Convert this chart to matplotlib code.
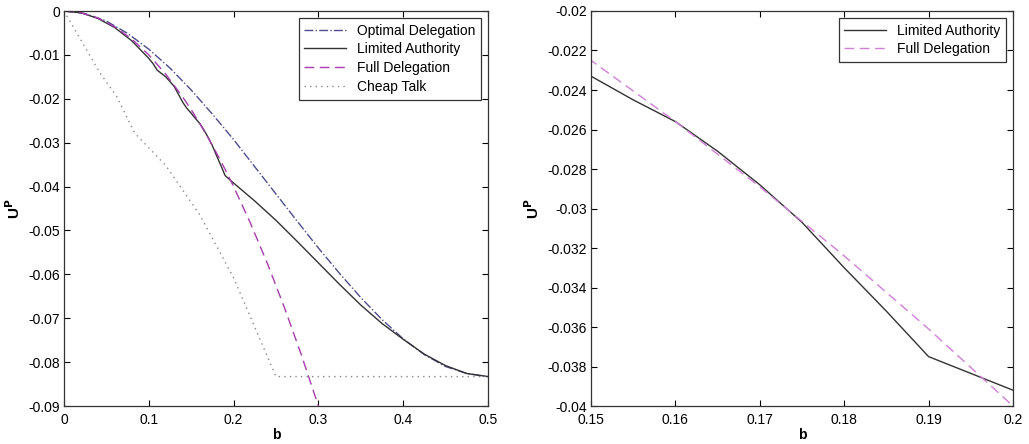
import matplotlib.pyplot as plt
from matplotlib.ticker import FuncFormatter

plt.rcParams['font.family'] = ['Liberation Sans', 'DejaVu Sans']
plt.rcParams['font.size'] = 10

# Valores
b_opt = [0, 0.025, 0.05, 0.075, 0.1, 0.125, 0.15, 0.175, 0.2, 0.225, 0.25,
         0.275, 0.3, 0.325, 0.35, 0.375, 0.4, 0.425, 0.45, 0.475, 0.5]
u_opt = [0, -0.0006, -0.0023, -0.0051, -0.0087, -0.0130, -0.0180, -0.0235, -0.0293,
         -0.0355, -0.0417, -0.0479, -0.0540, -0.0598, -0.0653, -0.0703, -0.0747,
         -0.0783, -0.0810, -0.0826, -0.0833]

b_lim = [0, 0.02, 0.04, 0.06, 0.08, 0.1, 0.105, 0.11, 0.12, 0.13, 0.14, 0.145,
         0.15, 0.155, 0.16, 0.165, 0.17, 0.175, 0.18, 0.185, 0.19, 0.195, 0.2,
         0.225, 0.25, 0.275, 0.3, 0.325, 0.35, 0.375, 0.4, 0.425, 0.45, 0.475, 0.5]
u_lim = [0, -0.0004, -0.0017, -0.0038, -0.0068, -0.0108, -0.0120, -0.0135, -0.0150,
         -0.0172, -0.0208, -0.0222, -0.0233, -0.0245, -0.0256, -0.0271, -0.0288,
         -0.0307, -0.0330, -0.0352, -0.0375, -0.03835, -0.0392, -0.0433, -0.0477,
         -0.0525, -0.0574, -0.0623, -0.0670, -0.0712, -0.0748, -0.0782, -0.0808,
         -0.0826, -0.0833]

b_full = [0, 0.02, 0.04, 0.06, 0.08, 0.1, 0.12, 0.14, 0.15, 0.16, 0.17, 0.18,
          0.19, 0.2, 0.22, 0.24, 0.26, 0.28, 0.3]
u_full = [0, -0.0004, -0.0016, -0.0036, -0.0064, -0.0100, -0.0144, -0.0196, -0.0225,
          -0.0256, -0.0289, -0.0324, -0.0361, -0.0400, -0.0484, -0.0576, -0.0676,
          -0.0784, -0.0900]

b_ct = [0, 0.025, 0.0417, 0.0625, 0.0833, 0.12, 0.16, 0.2, 0.25, 0.5]
u_ct = [0, -0.0083, -0.0139, -0.0196, -0.0278, -0.0352, -0.0464, -0.0608, -0.0833, -0.0833]

fmt = FuncFormatter(lambda v, p: ('%g' % round(v, 4)))

fig = plt.figure(figsize=(10.29, 4.44), dpi=100)

# Panel izquierdo
ax1 = fig.add_axes([64 / 1029, 38 / 444, 424 / 1029, 395 / 444])
ax1.plot(b_opt, u_opt, linestyle='-.', color='#4d4d8f', lw=1.0, label='Optimal Delegation')
ax1.plot(b_lim, u_lim, linestyle='-', color='#333333', lw=1.0, label='Limited Authority')
ax1.plot(b_full, u_full, linestyle=(0, (7, 4)), color='#a83cb0', lw=1.0, label='Full Delegation')
ax1.plot(b_ct, u_ct, linestyle=(0, (1, 3)), color='#888888', lw=1.0, label='Cheap Talk')
ax1.set_xlim(0, 0.5)
ax1.set_ylim(-0.09, 0)
ax1.set_xticks([0, 0.1, 0.2, 0.3, 0.4, 0.5])
ax1.set_yticks([-0.09, -0.08, -0.07, -0.06, -0.05, -0.04, -0.03, -0.02, -0.01, 0])
ax1.set_xlabel('b', fontweight='bold', labelpad=1)
ax1.set_ylabel('U$^\\mathbf{P}$', fontweight='bold', fontsize=11, labelpad=4)
leg1 = ax1.legend(loc='upper right', fancybox=False, edgecolor='#333333', framealpha=1,
                  handlelength=3.0, borderaxespad=0.5, labelspacing=0.35)
leg1.get_frame().set_linewidth(0.9)

# Panel derecho (zoom)
ax2 = fig.add_axes([591 / 1029, 38 / 444, 422 / 1029, 395 / 444])
ax2.plot(b_lim, u_lim, linestyle='-', color='#333333', lw=1.0, label='Limited Authority')
ax2.plot(b_full, u_full, linestyle=(0, (7, 4)), color='#d080d8', lw=1.0, label='Full Delegation')
ax2.set_xlim(0.15, 0.2)
ax2.set_ylim(-0.04, -0.02)
ax2.set_xticks([0.15, 0.16, 0.17, 0.18, 0.19, 0.2])
ax2.set_yticks([-0.04, -0.038, -0.036, -0.034, -0.032, -0.03, -0.028, -0.026,
                -0.024, -0.022, -0.02])
ax2.set_xlabel('b', fontweight='bold', labelpad=1)
ax2.set_ylabel('U$^\\mathbf{P}$', fontweight='bold', fontsize=11, labelpad=4)
leg2 = ax2.legend(loc='upper right', fancybox=False, edgecolor='#333333', framealpha=1,
                  handlelength=3.0, borderaxespad=0.5, labelspacing=0.35)
leg2.get_frame().set_linewidth(0.9)

for ax in (ax1, ax2):
    ax.xaxis.set_major_formatter(fmt)
    ax.yaxis.set_major_formatter(fmt)
    ax.tick_params(direction='in', top=True, right=True, length=4, width=0.8, pad=3)
    ax.tick_params(axis='x', pad=5)
    for s in ax.spines.values():
        s.set_linewidth(0.9)
        s.set_color('#333333')

plt.savefig('out.png', dpi=100)
plt.close()
